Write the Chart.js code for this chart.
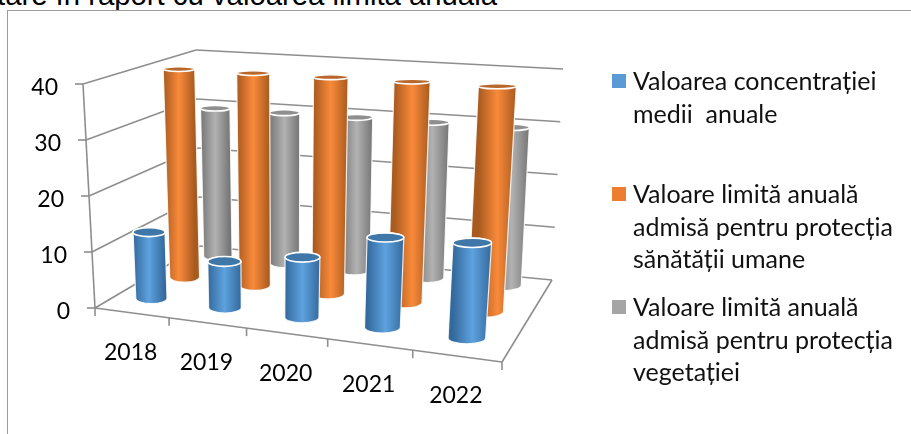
<!DOCTYPE html>
<html>
<head>
<meta charset="utf-8">
<title>Valoarea concentrației</title>
<script src="https://cdn.jsdelivr.net/npm/chart.js@4"></script>
<style>
    html, body { margin: 0; padding: 0; background: #fff; }
    body { width: 911px; height: 434px; position: relative; overflow: hidden; }
    #heading { position: absolute; left: -3px; top: -22px; font: 29.3px "Liberation Sans", Arial, sans-serif; color: #000; white-space: nowrap; }
    #frame { position: absolute; left: 7px; top: 10px; width: 904px; height: 424px; border-left: 1px solid #9c9c9c; border-top: 1px solid #9c9c9c; box-sizing: border-box; }
    #chart { position: absolute; left: 0; top: 0; }
    #legend { position: absolute; left: 612px; top: 0; font: 25px/32.6px Lato, sans-serif; color: #111; }
    .entry { position: absolute; left: 21px; white-space: pre; }
    .swatch { position: absolute; left: -21px; top: 10px; width: 14px; height: 14px; }
</style>
</head>
<body>
<div id="heading">tare în raport cu valoarea limită anuală</div>
<div id="frame"></div>
<canvas id="chart" width="911" height="434"></canvas>
<div id="legend"></div>
<script>
// Chart data
const categories = ['2018', '2019', '2020', '2021', '2022'];
const concentration = [12.7, 8.9, 11.1, 15.9, 16.4];
const healthLimit = [40, 40, 40, 40, 40];
const vegetationLimit = [30, 30, 30, 30, 30];
const valueTicks = [0, 10, 20, 30, 40];
const seriesNames = [
    'Valoarea concentrației\nmedii  anuale',
    'Valoare limită anuală\nadmisă pentru protecția\nsănătății umane',
    'Valoare limită anuală\nadmisă pentru protecția\nvegetației'
];

// Colours per series: side edge, side centre, top cap, legend
const seriesColors = [
    { edge: '#34699c', mid: '#5ea2df', cap: '#3f77a8', key: '#5b9bd5' },
    { edge: '#a85a1f', mid: '#f98a3a', cap: '#b8662a', key: '#ed7d31' },
    { edge: '#757575', mid: '#b2b2b2', cap: '#8f8f8f', key: '#a5a5a5' }
];
const legendTops = [64, 177, 290];

// Corners of the 3D box on the page (f/b = front/back, l/r = left/right, 0/1 = floor/top)
const box = {
    fl0: [95, 308], fr0: [502, 362], bl0: [200, 246], br0: [552, 280],
    fl1: [83, 84], fr1: [520, 108], bl1: [196, 50], br1: [563, 69]
};
const perspective = 0.89;
const halfWidth = 0.043;
const rowInset = 0.01;   // cylinders sit a little off the left wall
const baseLift = 0.02;   // and a little above the floor line
const axisColor = '#8e8e8e';

function mix(a, b, t) {
    return [a[0] + (b[0] - a[0]) * t, a[1] + (b[1] - a[1]) * t];
}

// u along the categories, v into the depth, w up the value axis (all 0..1)
function project(u, v, w) {
    const s = u * perspective / (1 + u * (perspective - 1));
    const floor = mix(mix(box.fl0, box.fr0, s), mix(box.bl0, box.br0, s), v);
    const top = mix(mix(box.fl1, box.fr1, s), mix(box.bl1, box.br1, s), v);
    return mix(floor, top, w);
}

function line(ctx, a, b) {
    ctx.beginPath();
    ctx.moveTo(a[0], a[1]);
    ctx.lineTo(b[0], b[1]);
    ctx.stroke();
}

function capHeight(y) {
    return 2.2 + (y - 60) * 0.0135;
}

function drawCylinder(ctx, rawU, v, w, colors) {
    const u = rowInset + rawU * (1 - rowInset);
    const t = project(u, v, w);
    const b = project(u, v, baseLift);
    const rt = (project(u + halfWidth, v, w)[0] - project(u - halfWidth, v, w)[0]) / 2;
    const rb = (project(u + halfWidth, v, baseLift)[0] - project(u - halfWidth, v, baseLift)[0]) / 2;
    const ryT = capHeight(t[1]);
    const ryB = capHeight(b[1]);

    const grad = ctx.createLinearGradient(t[0] - rt, 0, t[0] + rt, 0);
    grad.addColorStop(0, colors.edge);
    grad.addColorStop(0.5, colors.mid);
    grad.addColorStop(1, colors.edge);

    ctx.beginPath();
    ctx.moveTo(t[0] - rt, t[1]);
    ctx.lineTo(b[0] - rb, b[1]);
    ctx.ellipse(b[0], b[1], rb, ryB, 0, Math.PI, 0, true);
    ctx.lineTo(t[0] + rt, t[1]);
    ctx.ellipse(t[0], t[1], rt, ryT, 0, 0, Math.PI, true);
    ctx.closePath();
    ctx.fillStyle = grad;
    ctx.fill();
    ctx.strokeStyle = 'rgba(255,255,255,0.85)';
    ctx.lineWidth = 1.2;
    ctx.stroke();

    ctx.beginPath();
    ctx.ellipse(t[0], t[1], rt, ryT, 0, 0, Math.PI * 2);
    ctx.fillStyle = colors.cap;
    ctx.fill();
    ctx.strokeStyle = '#fff';
    ctx.lineWidth = 1.6;
    ctx.stroke();
}

const box3dPlugin = {
    id: 'box3d',
    afterDatasetsDraw(chart) {
        const ctx = chart.ctx;
        const area = chart.chartArea;
        const xScale = chart.scales.x;
        const yScale = chart.scales.y;
        ctx.save();

        // Walls and floor
        ctx.strokeStyle = axisColor;
        ctx.lineWidth = 1.6;
        yScale.ticks.forEach(function(tick) {
            const w = (area.bottom - yScale.getPixelForValue(tick.value)) / area.height;
            const front = project(0, 0, w);
            const back = project(0, 1, w);
            const right = project(1, 1, w);
            line(ctx, front, back);
            line(ctx, back, right);
            line(ctx, front, [front[0] - 8, front[1]]);
        });
        line(ctx, project(0, 0, 0), project(0, 0, 1));
        line(ctx, project(0, 0, 0), project(1, 0, 0));
        line(ctx, project(1, 0, 0), project(1, 1, 0));
        for (let i = 0; i <= categories.length; i++) {
            const p = project(i / categories.length, 0, 0);
            line(ctx, p, [p[0], p[1] + 8]);
        }

        // Cylinders, back row first
        for (let d = chart.data.datasets.length - 1; d >= 0; d--) {
            const v = (d + 0.5) / chart.data.datasets.length;
            chart.getDatasetMeta(d).data.forEach(function(bar) {
                const u = (bar.x - area.left) / area.width;
                const w = (area.bottom - bar.y) / area.height;
                drawCylinder(ctx, u, v, w, seriesColors[d]);
            });
        }

        // Tick labels
        ctx.fillStyle = '#000';
        ctx.font = '23px Lato, sans-serif';
        ctx.textBaseline = 'middle';
        ctx.textAlign = 'right';
        yScale.ticks.forEach(function(tick) {
            const w = (area.bottom - yScale.getPixelForValue(tick.value)) / area.height;
            const p = project(0, 0, w);
            ctx.fillText(String(tick.value), p[0] - 25, p[1] + 4);
        });
        ctx.textAlign = 'center';
        xScale.getLabels().forEach(function(label, i) {
            const u = (xScale.getPixelForValue(i) - area.left) / area.width;
            const p = project(u, 0, 0);
            ctx.fillText(label, p[0] - 1, p[1] + 40);
        });
        ctx.restore();
    }
};

document.addEventListener('DOMContentLoaded', function() {
    new Chart(document.getElementById('chart'), {
        type: 'bar',
        data: {
            labels: categories,
            datasets: [
                { label: seriesNames[0], data: concentration, backgroundColor: 'transparent', grouped: false },
                { label: seriesNames[1], data: healthLimit, backgroundColor: 'transparent', grouped: false },
                { label: seriesNames[2], data: vegetationLimit, backgroundColor: 'transparent', grouped: false }
            ]
        },
        options: {
            responsive: false,
            animation: false,
            plugins: { legend: { display: false }, tooltip: { enabled: false } },
            scales: {
                x: { display: false },
                y: { display: false, min: valueTicks[0], max: valueTicks[valueTicks.length - 1], ticks: { stepSize: 10 } }
            }
        },
        plugins: [box3dPlugin]
    });

    // Legend
    const legend = document.getElementById('legend');
    seriesNames.forEach(function(name, i) {
        const entry = document.createElement('div');
        entry.className = 'entry';
        entry.style.top = legendTops[i] + 'px';
        entry.textContent = name;
        const swatch = document.createElement('div');
        swatch.className = 'swatch';
        swatch.style.background = seriesColors[i].key;
        entry.appendChild(swatch);
        legend.appendChild(entry);
    });
});
</script>
</body>
</html>
